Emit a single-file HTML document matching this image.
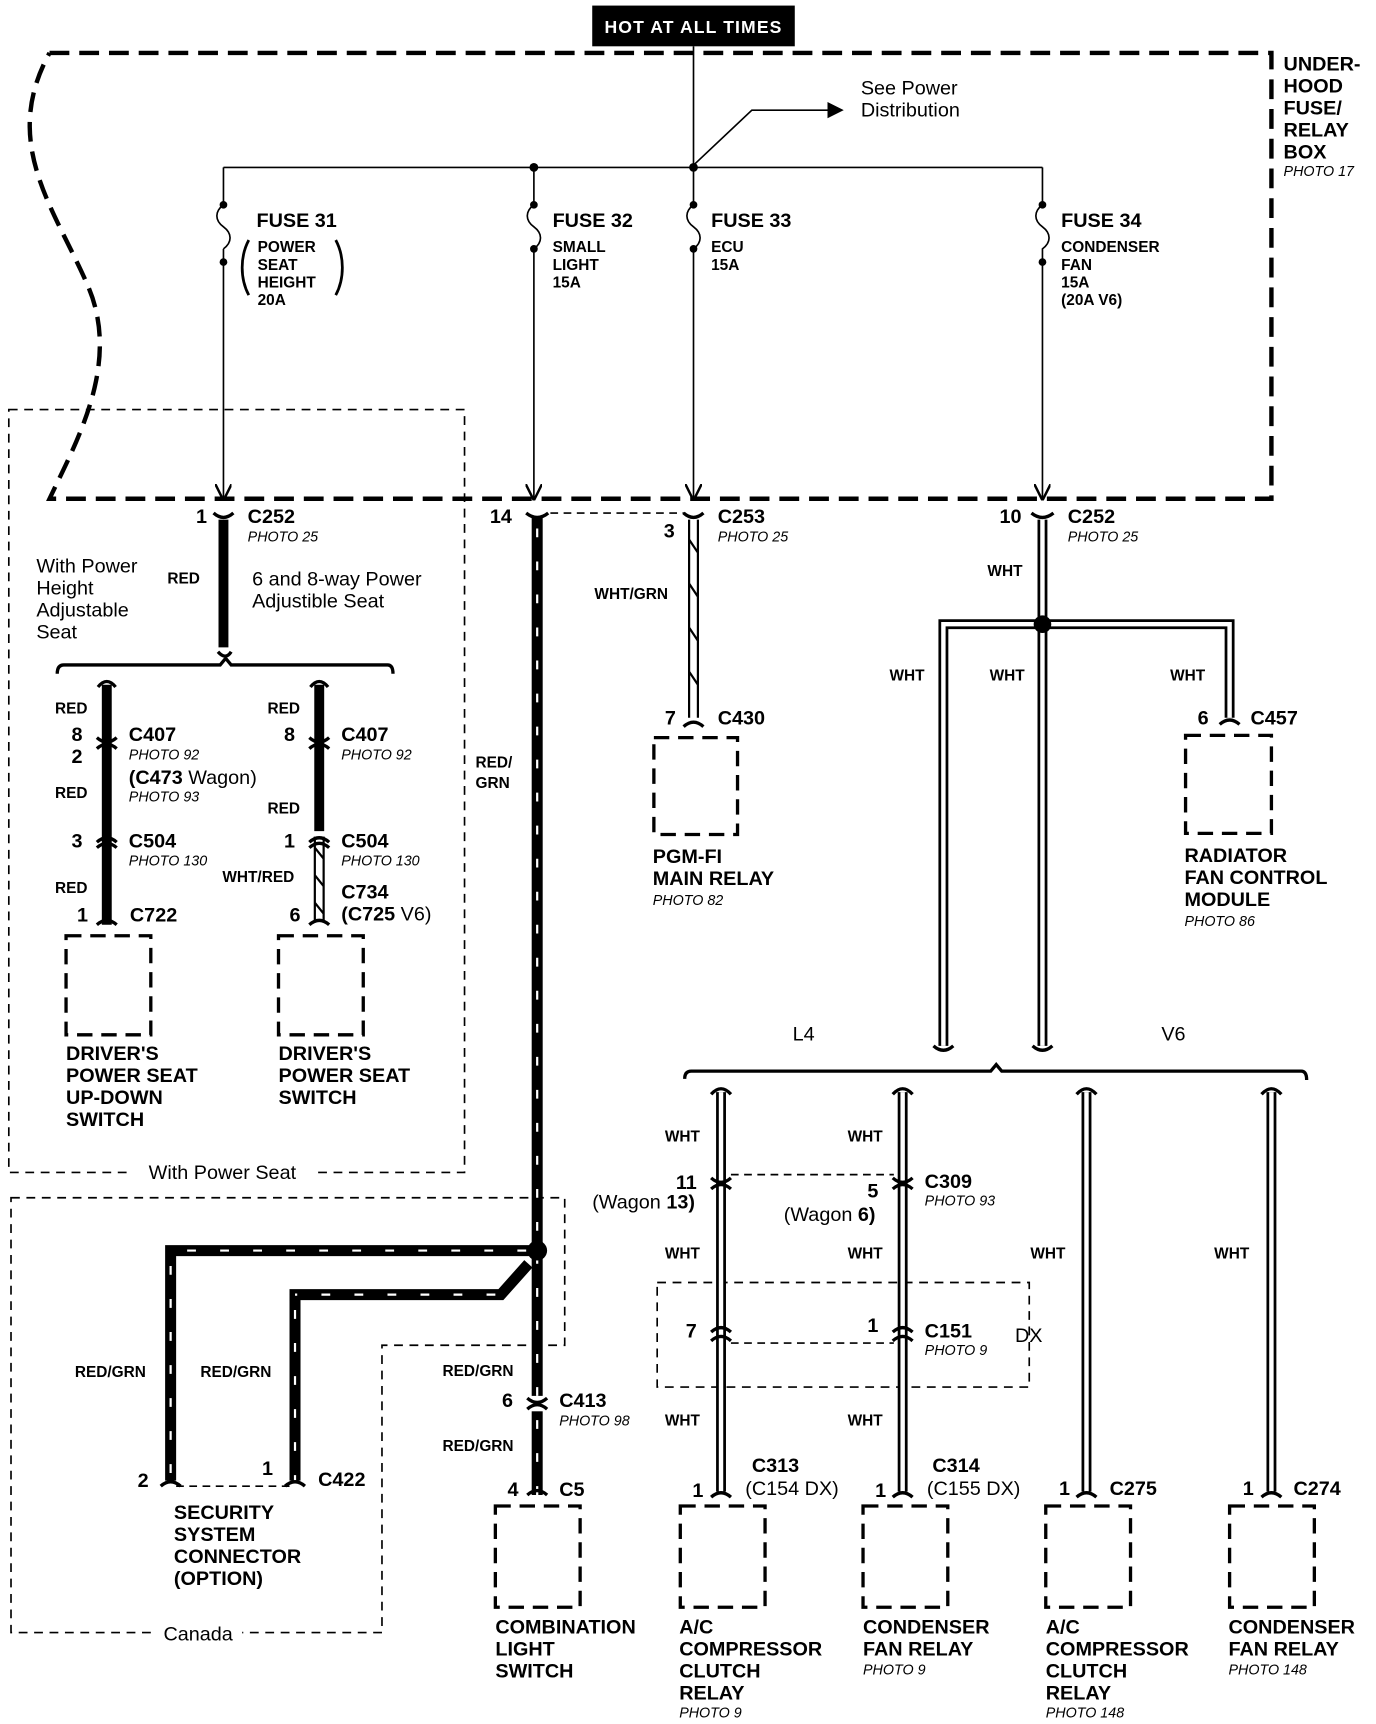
<!DOCTYPE html>
<html><head><meta charset="utf-8"><style>
html,body{margin:0;padding:0;background:#fff;}
svg{display:block;}
text{font-family:"Liberation Sans",Arial,sans-serif;fill:#000;}
.b{font-weight:bold;}
.l{font-size:18px;font-weight:bold;}
.s{font-size:14px;font-weight:bold;}
.p{font-size:13px;font-style:italic;}
.n{font-size:18px;}
</style></head><body>
<svg width="1376" height="1724" viewBox="0 0 1250 1566" xmlns="http://www.w3.org/2000/svg">
<defs>
<marker id="ar" markerWidth="10" markerHeight="10" refX="9" refY="5" orient="auto"><path d="M0,0 L10,5 L0,10" fill="none" stroke="#000" stroke-width="1.5"/></marker>
<marker id="af" markerWidth="10" markerHeight="10" refX="9" refY="5" orient="auto"><path d="M0,0 L10,5 L0,10 z" fill="#000"/></marker>
</defs>
<!-- top label -->
<rect x="538" y="5" width="184" height="37" fill="#000"/>
<text x="630" y="30" text-anchor="middle" style="fill:#fff;font-size:16px;font-weight:bold;letter-spacing:1px">HOT AT ALL TIMES</text>
<!-- under-hood dashed box -->
<path d="M45,48 L1155,48 L1155,453 L45,453 C70,400 110,330 80,260 C50,190 0,130 45,48" fill="none" stroke="#000" stroke-width="4" stroke-dasharray="18,9"/>
<text x="1166" y="64" class="l">UNDER-</text><text x="1166" y="84" class="l">HOOD</text><text x="1166" y="104" class="l">FUSE/</text><text x="1166" y="124" class="l">RELAY</text><text x="1166" y="144" class="l">BOX</text>
<text x="1166" y="160" class="p">PHOTO 17</text>
<!-- main feed -->
<line x1="630" y1="42" x2="630" y2="152" stroke="#000" stroke-width="1.5"/>
<line x1="203" y1="152" x2="947" y2="152" stroke="#000" stroke-width="1.5"/>
<circle cx="485" cy="152" r="4"/><circle cx="630" cy="152" r="4"/>
<polyline points="630,150 683,100 765,100" fill="none" stroke="#000" stroke-width="1.5" marker-end="url(#af)"/>
<text x="782" y="86" class="n">See Power</text><text x="782" y="106" class="n">Distribution</text>
<!-- fuse drops -->
<g stroke="#000" stroke-width="1.5" fill="none">
<path d="M203,152 V186 M203,186 c-8,6 -8,14 0,20 c8,6 8,14 0,20 M203,226 V453" marker-end="url(#ar)"/>
<path d="M485,152 V186 c-8,6 -8,14 0,20 c8,6 8,14 0,20 V453" marker-end="url(#ar)"/>
<path d="M630,152 V186 c-8,6 -8,14 0,20 c8,6 8,14 0,20 V453" marker-end="url(#ar)"/>
<path d="M947,152 V186 c-8,6 -8,14 0,20 c8,6 8,14 0,20 V453" marker-end="url(#ar)"/>
</g>
<g fill="#000"><circle cx="203" cy="186" r="3.5"/><circle cx="203" cy="238" r="3.5"/><circle cx="485" cy="186" r="3.5"/><circle cx="485" cy="226" r="3.5"/><circle cx="630" cy="186" r="3.5"/><circle cx="630" cy="226" r="3.5"/><circle cx="947" cy="186" r="3.5"/><circle cx="947" cy="238" r="3.5"/></g>
<text x="233" y="206" class="l">FUSE 31</text>
<path d="M226,218 c-8,15 -8,35 0,50 M305,218 c8,15 8,35 0,50" fill="none" stroke="#000" stroke-width="2.5"/>
<text x="234" y="229" class="s">POWER</text><text x="234" y="245" class="s">SEAT</text><text x="234" y="261" class="s">HEIGHT</text><text x="234" y="277" class="s">20A</text>
<text x="502" y="206" class="l">FUSE 32</text><text x="502" y="229" class="s">SMALL</text><text x="502" y="245" class="s">LIGHT</text><text x="502" y="261" class="s">15A</text>
<text x="646" y="206" class="l">FUSE 33</text><text x="646" y="229" class="s">ECU</text><text x="646" y="245" class="s">15A</text>
<text x="964" y="206" class="l">FUSE 34</text><text x="964" y="229" class="s">CONDENSER</text><text x="964" y="245" class="s">FAN</text><text x="964" y="261" class="s">15A</text><text x="964" y="277" class="s">(20A V6)</text>

<!-- dashed region boxes -->
<g fill="none" stroke="#000" stroke-width="1.5" stroke-dasharray="8,6">
<rect x="8" y="372" width="414" height="693"/>
<path d="M10,1088 H513 V1222 H347 V1483 H10 Z"/>
<rect x="597" y="1165" width="338" height="95"/>
</g>
<rect x="120" y="1055" width="165" height="20" fill="#fff"/>
<text x="202" y="1071" text-anchor="middle" class="n">With Power Seat</text>
<rect x="140" y="1473" width="80" height="20" fill="#fff"/>
<text x="180" y="1490" text-anchor="middle" class="n">Canada</text>

<!-- left seat section -->
<line x1="203" y1="472" x2="203" y2="588" stroke="#000" stroke-width="9"/>
<path d="M194,466 q9,8 18,0" fill="none" stroke="#000" stroke-width="3"/>
<text x="178" y="475" class="l">1</text><text x="225" y="475" class="l">C252</text><text x="225" y="492" class="p">PHOTO 25</text>
<text x="33" y="520" class="n">With Power</text><text x="33" y="540" class="n">Height</text><text x="33" y="560" class="n">Adjustable</text><text x="33" y="580" class="n">Seat</text>
<text x="152" y="530" class="s">RED</text>
<text x="229" y="532" class="n">6 and 8-way Power</text><text x="229" y="552" class="n">Adjustible Seat</text>
<path d="M198,592 q7,8 12,0 M52,612 q0,-8 6,-8 H200 l5,-6 l5,6 H352 q5,0 5,8" fill="none" stroke="#000" stroke-width="3"/>
<line x1="97" y1="622" x2="97" y2="840" stroke="#000" stroke-width="9"/>
<line x1="290" y1="622" x2="290" y2="755" stroke="#000" stroke-width="9"/>
<path d="M286,760 V838 M294,760 V838 M286,770 l8,10 M286,795 l8,10 M286,820 l8,10" stroke="#000" stroke-width="2" fill="none"/>
<g fill="none" stroke="#000" stroke-width="3">
<path d="M89,624 q8,-10 16,0 M282,624 q8,-10 16,0"/>
<path d="M88,670 q9,8 18,0 M88,680 q9,-8 18,0 M281,670 q9,8 18,0 M281,680 q9,-8 18,0"/>
<path d="M88,765 q9,-8 18,0 M88,770 q9,-8 18,0 M281,765 q9,-8 18,0 M281,770 q9,-8 18,0"/>
<path d="M88,840 q9,-8 18,0 M281,840 q9,-8 18,0"/>
</g>
<text x="50" y="648" class="s">RED</text><text x="243" y="648" class="s">RED</text>
<text x="65" y="673" class="l">8</text><text x="117" y="673" class="l">C407</text><text x="117" y="690" class="p">PHOTO 92</text>
<text x="65" y="693" class="l">2</text><text x="117" y="712" class="l">(C473 <tspan font-weight="normal">Wagon)</tspan></text><text x="117" y="728" class="p">PHOTO 93</text>
<text x="258" y="673" class="l">8</text><text x="310" y="673" class="l">C407</text><text x="310" y="690" class="p">PHOTO 92</text>
<text x="50" y="725" class="s">RED</text><text x="243" y="739" class="s">RED</text>
<text x="65" y="770" class="l">3</text><text x="117" y="770" class="l">C504</text><text x="117" y="786" class="p">PHOTO 130</text>
<text x="258" y="770" class="l">1</text><text x="310" y="770" class="l">C504</text><text x="310" y="786" class="p">PHOTO 130</text>
<text x="50" y="811" class="s">RED</text><text x="202" y="801" class="s">WHT/RED</text>
<text x="310" y="816" class="l">C734</text><text x="310" y="836" class="l">(C725 <tspan font-weight="normal">V6)</tspan></text>
<text x="70" y="837" class="l">1</text><text x="118" y="837" class="l">C722</text><text x="263" y="837" class="l">6</text>
<g fill="none" stroke="#000" stroke-width="3" stroke-dasharray="14,8">
<rect x="60" y="850" width="77" height="90"/><rect x="253" y="850" width="77" height="90"/>
<rect x="594" y="670" width="76" height="88"/><rect x="1077" y="668" width="78" height="89"/>
<rect x="450" y="1368" width="77" height="92"/><rect x="618" y="1368" width="77" height="92"/><rect x="784" y="1368" width="77" height="92"/><rect x="950" y="1368" width="77" height="92"/><rect x="1117" y="1368" width="77" height="92"/>
</g>
<text x="60" y="963" class="l">DRIVER'S</text><text x="60" y="983" class="l">POWER SEAT</text><text x="60" y="1003" class="l">UP-DOWN</text><text x="60" y="1023" class="l">SWITCH</text>
<text x="253" y="963" class="l">DRIVER'S</text><text x="253" y="983" class="l">POWER SEAT</text><text x="253" y="1003" class="l">SWITCH</text>

<!-- RED/GRN main -->
<g stroke="#000" fill="none">
<line x1="488" y1="470" x2="488" y2="1358" stroke-width="10"/>
<path d="M488,1136 H155 V1345" stroke-width="10"/>
<path d="M480,1148 L455,1176 H268 V1345" stroke-width="10"/>
</g>
<g stroke="#fff" stroke-width="2" fill="none" stroke-dasharray="8,22">
<line x1="488" y1="480" x2="488" y2="1358"/>
<line x1="478" y1="1136" x2="155" y2="1136"/><line x1="155" y1="1150" x2="155" y2="1345"/>
<line x1="450" y1="1176" x2="268" y2="1176"/><line x1="268" y1="1190" x2="268" y2="1345"/>
</g>
<circle cx="488" cy="1136" r="9"/>
<rect x="480" y="1268" width="16" height="14" fill="#fff"/>
<path d="M479,1270 q9,8 18,0 M479,1280 q9,-8 18,0 M479,1358 q9,-8 18,0 M478,466 q10,8 20,0 M146,1350 q9,-8 18,0 M259,1350 q9,-8 18,0" fill="none" stroke="#000" stroke-width="3"/>
<line x1="160" y1="1350" x2="263" y2="1350" stroke="#000" stroke-width="1.5" stroke-dasharray="7,5"/>
<line x1="500" y1="466" x2="622" y2="466" stroke="#000" stroke-width="1.5" stroke-dasharray="7,5"/>
<text x="445" y="475" class="l">14</text>
<text x="432" y="697" class="s">RED/</text><text x="432" y="716" class="s">GRN</text>
<text x="68" y="1251" class="s">RED/GRN</text><text x="182" y="1251" class="s">RED/GRN</text>
<text x="402" y="1250" class="s">RED/GRN</text><text x="402" y="1318" class="s">RED/GRN</text>
<text x="456" y="1278" class="l">6</text><text x="508" y="1278" class="l">C413</text><text x="508" y="1295" class="p">PHOTO 98</text>
<text x="461" y="1359" class="l">4</text><text x="508" y="1359" class="l">C5</text>
<text x="125" y="1351" class="l">2</text><text x="238" y="1340" class="l">1</text><text x="289" y="1350" class="l">C422</text>
<text x="158" y="1380" class="l">SECURITY</text><text x="158" y="1400" class="l">SYSTEM</text><text x="158" y="1420" class="l">CONNECTOR</text><text x="158" y="1440" class="l">(OPTION)</text>
<text x="450" y="1484" class="l">COMBINATION</text><text x="450" y="1504" class="l">LIGHT</text><text x="450" y="1524" class="l">SWITCH</text>

<!-- WHT/GRN -->
<path d="M626,472 V652 M634,472 V652 M626,490 l8,12 M626,530 l8,12 M626,570 l8,12 M626,610 l8,12" stroke="#000" stroke-width="2" fill="none"/>
<path d="M621,466 q9,8 18,0 M621,660 q9,-8 18,0" fill="none" stroke="#000" stroke-width="3"/>
<text x="652" y="475" class="l">C253</text><text x="652" y="492" class="p">PHOTO 25</text><text x="603" y="488" class="l">3</text>
<text x="540" y="544" class="s">WHT/GRN</text>
<text x="604" y="658" class="l">7</text><text x="652" y="658" class="l">C430</text>
<text x="593" y="784" class="l">PGM-FI</text><text x="593" y="804" class="l">MAIN RELAY</text><text x="593" y="822" class="p">PHOTO 82</text>

<!-- WHT right -->
<g fill="none" stroke-linejoin="miter">
<path d="M947,472 V950 M947,567 H857 V950 M947,567 H1117 V652" stroke="#000" stroke-width="9"/>
<path d="M947,472 V950 M947,567 H857 V950 M947,567 H1117 V652" stroke="#fff" stroke-width="4"/>
<path d="M655,992 V1355 M820,992 V1355 M987,992 V1355 M1155,992 V1355" stroke="#000" stroke-width="9"/>
<path d="M655,992 V1355 M820,992 V1355 M987,992 V1355 M1155,992 V1355" stroke="#fff" stroke-width="4"/>
</g>
<circle cx="947" cy="567" r="8"/>
<g fill="none" stroke="#000" stroke-width="3">
<path d="M937,466 q10,8 20,0 M1108,658 q9,-8 18,0 M848,950 q9,8 18,0 M938,950 q9,8 18,0"/>
<path d="M622,980 q0,-7 6,-7 H900 l5,-6 l5,6 H1182 q5,0 5,8"/>
<path d="M646,994 q9,-10 18,0 M811,994 q9,-10 18,0 M978,994 q9,-10 18,0 M1146,994 q9,-10 18,0"/>
<path d="M646,1070 q9,8 18,0 M646,1080 q9,-8 18,0 M811,1070 q9,8 18,0 M811,1080 q9,-8 18,0"/>
<path d="M646,1210 q9,-8 18,0 M646,1218 q9,-8 18,0 M811,1210 q9,-8 18,0 M811,1218 q9,-8 18,0"/>
<path d="M646,1360 q9,-8 18,0 M811,1360 q9,-8 18,0 M978,1360 q9,-8 18,0 M1146,1360 q9,-8 18,0"/>
</g>
<g stroke="#000" stroke-width="1.5" stroke-dasharray="7,5"><line x1="664" y1="1067" x2="812" y2="1067"/><line x1="664" y1="1220" x2="812" y2="1220"/></g>
<text x="908" y="475" class="l">10</text><text x="970" y="475" class="l">C252</text><text x="970" y="492" class="p">PHOTO 25</text>
<text x="897" y="523" class="s">WHT</text><text x="808" y="618" class="s">WHT</text><text x="899" y="618" class="s">WHT</text><text x="1063" y="618" class="s">WHT</text>
<text x="1088" y="658" class="l">6</text><text x="1136" y="658" class="l">C457</text>
<text x="1076" y="783" class="l">RADIATOR</text><text x="1076" y="803" class="l">FAN CONTROL</text><text x="1076" y="823" class="l">MODULE</text><text x="1076" y="841" class="p">PHOTO 86</text>
<text x="720" y="945" class="n">L4</text><text x="1055" y="945" class="n">V6</text>
<text x="604" y="1037" class="s">WHT</text><text x="770" y="1037" class="s">WHT</text>
<text x="614" y="1080" class="l">11</text><text x="538" y="1098" class="n">(Wagon <tspan font-weight="bold">13)</tspan></text>
<text x="788" y="1088" class="l">5</text><text x="840" y="1079" class="l">C309</text><text x="840" y="1095" class="p">PHOTO 93</text>
<text x="712" y="1109" class="n">(Wagon <tspan font-weight="bold">6)</tspan></text>
<text x="604" y="1143" class="s">WHT</text><text x="770" y="1143" class="s">WHT</text><text x="936" y="1143" class="s">WHT</text><text x="1103" y="1143" class="s">WHT</text>
<text x="623" y="1215" class="l">7</text><text x="788" y="1210" class="l">1</text><text x="840" y="1215" class="l">C151</text><text x="840" y="1231" class="p">PHOTO 9</text><text x="922" y="1219" class="n">DX</text>
<text x="604" y="1295" class="s">WHT</text><text x="770" y="1295" class="s">WHT</text>
<text x="683" y="1337" class="l">C313</text><text x="677" y="1358" class="n">(C154 DX)</text>
<text x="847" y="1337" class="l">C314</text><text x="842" y="1358" class="n">(C155 DX)</text>
<text x="629" y="1360" class="l">1</text><text x="795" y="1360" class="l">1</text><text x="962" y="1358" class="l">1</text><text x="1008" y="1358" class="l">C275</text>
<text x="1129" y="1358" class="l">1</text><text x="1175" y="1358" class="l">C274</text>
<text x="617" y="1484" class="l">A/C</text><text x="617" y="1504" class="l">COMPRESSOR</text><text x="617" y="1524" class="l">CLUTCH</text><text x="617" y="1544" class="l">RELAY</text><text x="617" y="1560" class="p">PHOTO 9</text>
<text x="784" y="1484" class="l">CONDENSER</text><text x="784" y="1504" class="l">FAN RELAY</text><text x="784" y="1521" class="p">PHOTO 9</text>
<text x="950" y="1484" class="l">A/C</text><text x="950" y="1504" class="l">COMPRESSOR</text><text x="950" y="1524" class="l">CLUTCH</text><text x="950" y="1544" class="l">RELAY</text><text x="950" y="1560" class="p">PHOTO 148</text>
<text x="1116" y="1484" class="l">CONDENSER</text><text x="1116" y="1504" class="l">FAN RELAY</text><text x="1116" y="1521" class="p">PHOTO 148</text>
</svg>
</body></html>
